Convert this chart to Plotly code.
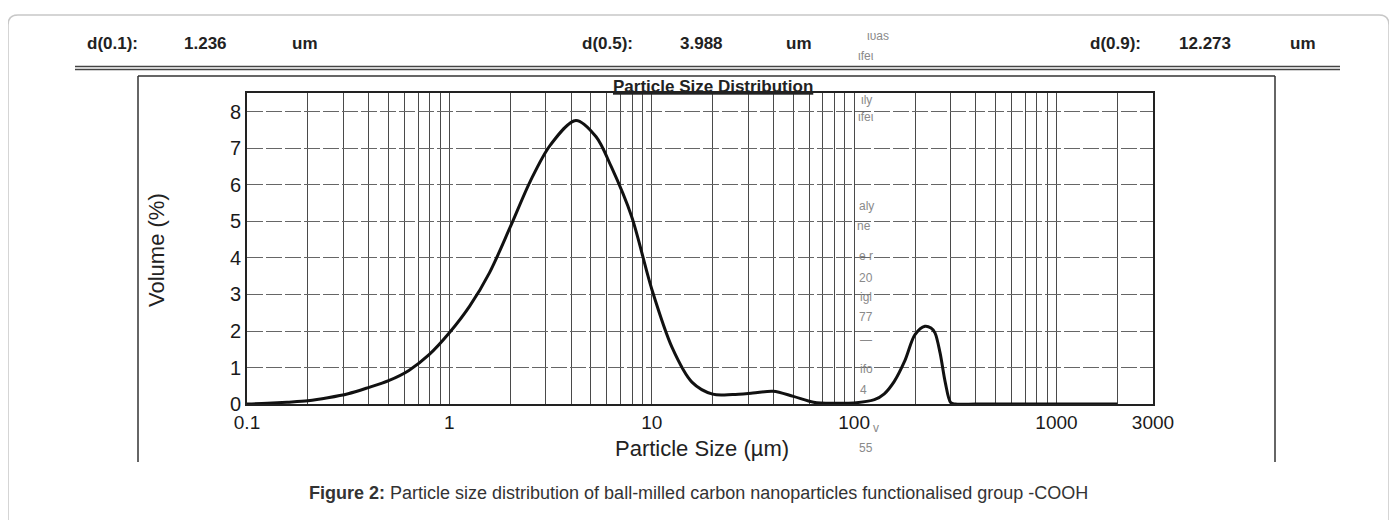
import plotly.graph_objects as go

# ---- data ----
particle_size_um = [0.1, 0.126, 0.158, 0.2, 0.251, 0.316, 0.398, 0.501, 0.631, 0.794,
                    1.0, 1.26, 1.58, 2.0, 2.51, 3.16, 4.22, 5.31, 6.31, 7.94,
                    10.0, 12.6, 15.8, 20.0, 25.1, 31.6, 39.8, 50.1, 63.1, 79.4,
                    100.0, 126.0, 141.0, 158.0, 178.0, 200.0, 224.0, 240.0, 251.0,
                    266.0, 282.0, 300.0, 316.0, 398.0, 501.0, 794.0, 1260.0, 2000.0]
volume_pct = [0.0, 0.02, 0.05, 0.09, 0.17, 0.28, 0.45, 0.64, 0.92, 1.35,
              1.95, 2.68, 3.6, 4.85, 6.1, 7.1, 7.77, 7.32, 6.5, 5.15,
              3.15, 1.55, 0.6, 0.27, 0.26, 0.3, 0.35, 0.21, 0.05, 0.02,
              0.03, 0.12, 0.28, 0.62, 1.18, 1.9, 2.13, 2.08, 1.95,
              1.4, 0.6, 0.04, 0.0, 0.0, 0.0, 0.0, 0.0, 0.0]

x_tick_vals = [m * 10.0 ** e for e in range(-1, 4) for m in range(1, 10)
               if m * 10.0 ** e <= 3000]
x_labels = {0.1: "0.1", 1.0: "1", 10.0: "10", 100.0: "100", 1000.0: "1000", 3000.0: "3000"}
x_tick_text = [x_labels.get(round(v, 6), "") for v in x_tick_vals]
y_tick_vals = [0, 1, 2, 3, 4, 5, 6, 7, 8]

header_labels = ["d(0.1):", "d(0.5):", "d(0.9):"]
header_values = ["1.236", "3.988", "12.273"]
header_unit = "um"

FONT = "Liberation Sans, Arial, sans-serif"

# page body has an 8px margin: work in screen pixels and shift
OFF = 8
W, H = 1397 - OFF, 520 - OFF
L, R, T, B = 247, 1153, 93, 404          # plot area in screen pixels
def px(x):
    return (x - L) / (R - L)
def py(y):
    return (B - y) / (B - T)

fig = go.Figure()
fig.add_trace(go.Scatter(
    x=particle_size_um, y=volume_pct, mode="lines",
    line=dict(color="#111111", width=3, shape="spline", smoothing=0.9),
    hoverinfo="x+y", showlegend=False))

fig.update_layout(
    width=W, height=H,
    margin=dict(l=L - OFF, r=1397 - R, t=T - OFF, b=520 - B),
    paper_bgcolor="white", plot_bgcolor="white",
    font=dict(family=FONT, color="#222222"),
    xaxis=dict(type="log", range=[-1, 3.47712], tickvals=x_tick_vals,
               ticktext=x_tick_text, showgrid=True, gridcolor="#4a4a4a",
               gridwidth=1.2, showline=True, linecolor="#222222", linewidth=2,
               mirror=True, ticks="", zeroline=False,
               tickfont=dict(size=19, family=FONT, color="#1a1a1a")),
    yaxis=dict(range=[0, 8.52], tickvals=y_tick_vals, showgrid=True,
               gridcolor="#666666", gridwidth=1.2, griddash="16px,3px",
               showline=True, linecolor="#222222", linewidth=2, mirror=True,
               ticks="", zeroline=False,
               tickfont=dict(size=20, family=FONT, color="#1a1a1a")),
)

shapes = []
# page rounded border
shapes.append(dict(type="path", xref="paper", yref="paper",
                   path=f"M {px(8)},{py(530)} L {px(8)},{py(25)} Q {px(8)},{py(15)} {px(18)},{py(15)} "
                        f"L {px(1379)},{py(15)} Q {px(1389)},{py(15)} {px(1389)},{py(25)} L {px(1389)},{py(530)}",
                   line=dict(color="#c8c8c8", width=1.5)))
# header double line
for yy in (66.5, 69.5):
    shapes.append(dict(type="line", xref="paper", yref="paper",
                       x0=px(75), x1=px(1340), y0=py(yy), y1=py(yy),
                       line=dict(color="#444444", width=1.3)))
# outer report box
shapes.append(dict(type="line", xref="paper", yref="paper", x0=px(138), x1=px(1275),
                   y0=py(76), y1=py(76), line=dict(color="#333333", width=1.5)))
shapes.append(dict(type="line", xref="paper", yref="paper", x0=px(138), x1=px(138),
                   y0=py(76), y1=py(462), line=dict(color="#333333", width=1.5)))
shapes.append(dict(type="line", xref="paper", yref="paper", x0=px(1275), x1=px(1275),
                   y0=py(76), y1=py(462), line=dict(color="#333333", width=1.5)))
fig.update_layout(shapes=shapes)

ann = []
def text(x, y, s, size=14, bold=False, color="#222222", xanchor="center", angle=0):
    ann.append(dict(x=px(x), y=py(y), xref="paper", yref="paper",
                    text=f"<b>{s}</b>" if bold else s, showarrow=False,
                    xanchor=xanchor, yanchor="middle", textangle=angle,
                    font=dict(family=FONT, size=size, color=color)))

# header
hx = [(85, 182, 290), (580, 678, 784), (1088, 1177, 1288)]
for (a, b, c), lab, val in zip(hx, header_labels, header_values):
    text(a, 43, lab, 17, True, xanchor="left")
    text(b, 43, val, 17, True, xanchor="left")
    text(c, 43, header_unit, 17, True, xanchor="left")

# chart title
text(713, 86, "<u>Particle Size Distribution</u>", 17, True)
# axis titles
text(702, 448, "Particle Size (µm)", 22)
text(156, 250, "Volume (%)", 22, angle=-90)
# caption
text(698, 493, "<b>Figure 2:</b> Particle size distribution of ball-milled carbon nanoparticles functionalised group -COOH",
     18, False, color="#333333")

# faint scan bleed-through text
faint = "#8a8a8a"
for (xx, yy, s) in [(878, 36, "ιυas"), (866, 56, "ιfeι"), (866, 100, "ιly"),
                    (866, 117, "ιfeι"), (866, 206, "aly"), (864, 226, "ne"),
                    (866, 256, "e r"), (866, 278, "20"), (866, 297, "igl"),
                    (866, 317, "77"), (866, 340, "—"), (866, 369, "ifo"),
                    (863, 390, "4"), (876, 428, "v"), (866, 448, "55")]:
    text(xx, yy, s, 12, False, color=faint)

fig.update_layout(annotations=ann)
fig.write_html("out.html")
